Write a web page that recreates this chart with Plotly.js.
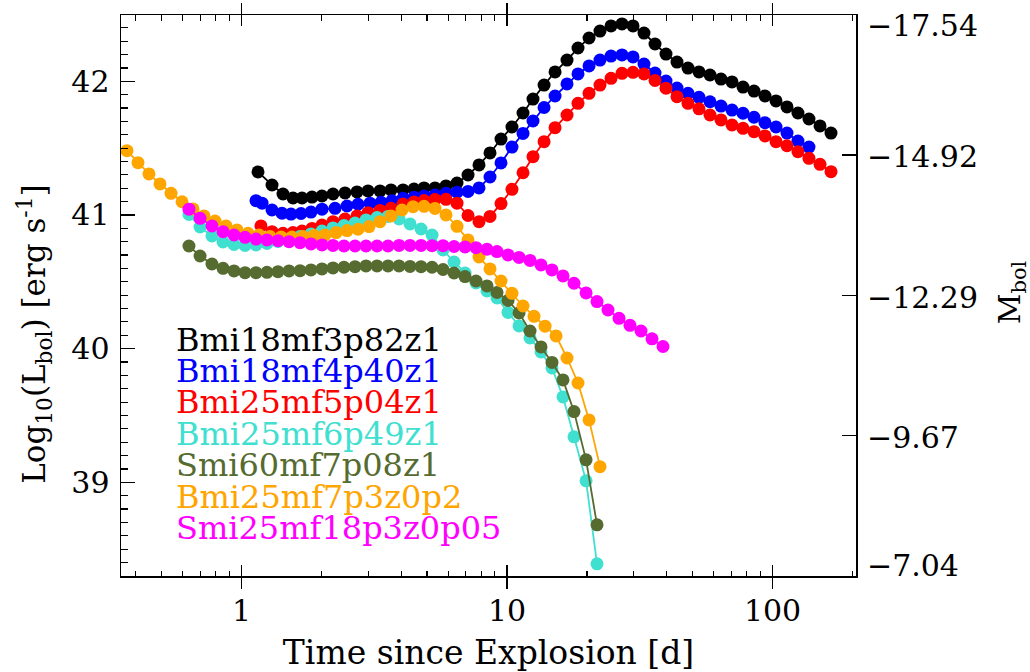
<!DOCTYPE html>
<html>
<head>
<meta charset="utf-8">
<script src="https://cdn.plot.ly/plotly-3.0.1.min.js"></script>
<style>html,body{margin:0;padding:0;background:#fff;}</style>
</head>
<body>
<div id="chart" style="width:1030px;height:672px;"></div>
<script>
// ---- Data ----
const seriesNames = ["Bmi18mf3p82z1","Bmi18mf4p40z1","Bmi25mf5p04z1","Bmi25mf6p49z1","Smi60mf7p08z1","Bmi25mf7p3z0p2","Smi25mf18p3z0p05"];

const t_Bmi18mf3p82z1 = [1.154,1.303,1.433,1.563,1.690,1.843,2.010,2.211,2.454,2.723,2.996,3.324,3.657,4.058,4.464,4.869,5.356,5.891,6.482,7.131,7.845,8.630,9.493,10.44,11.49,12.53,13.79,15.17,16.83,18.51,20.37,22.40,24.65,27.11,29.83,32.81,36.10,39.71,43.68,48.05,52.86,58.15,63.97,70.39,77.43,85.18,93.72,103.1,113.4,124.7,137.2,151.0,166.1];
const L_Bmi18mf3p82z1 = [41.322,41.224,41.157,41.127,41.127,41.134,41.142,41.157,41.165,41.172,41.180,41.180,41.187,41.187,41.194,41.202,41.202,41.217,41.239,41.299,41.374,41.464,41.568,41.658,41.763,41.867,41.972,42.070,42.159,42.249,42.324,42.376,42.414,42.429,42.414,42.361,42.279,42.204,42.144,42.099,42.070,42.047,42.017,41.995,41.957,41.927,41.890,41.853,41.808,41.763,41.718,41.666,41.613];

const t_Bmi18mf4p40z1 = [1.134,1.195,1.303,1.421,1.536,1.675,1.827,2.010,2.250,2.497,2.747,3.048,3.353,3.689,4.058,4.464,4.869,5.356,5.891,6.482,7.131,7.845,8.630,9.493,10.44,11.49,12.53,13.79,15.17,16.83,18.51,20.37,22.40,24.65,27.11,29.83,32.81,36.10,39.71,43.68,48.05,52.86,58.15,63.97,70.39,77.43,85.18,93.72,103.1,113.4,124.7,137.2];
const L_Bmi18mf4p40z1 = [41.107,41.088,41.037,41.013,41.007,41.011,41.022,41.043,41.050,41.067,41.080,41.088,41.095,41.107,41.125,41.132,41.142,41.150,41.162,41.170,41.176,41.202,41.284,41.389,41.508,41.610,41.703,41.804,41.890,41.980,42.055,42.115,42.159,42.189,42.197,42.182,42.129,42.062,42.002,41.950,41.910,41.880,41.847,41.815,41.785,41.761,41.731,41.690,41.658,41.613,41.553,41.508];

const t_Bmi25mf5p04z1 = [1.184,1.303,1.433,1.563,1.690,1.843,2.010,2.211,2.454,2.723,2.996,3.324,3.657,4.058,4.464,4.869,5.356,5.891,6.482,7.131,7.845,8.630,9.493,10.44,11.49,12.53,13.79,15.17,16.83,18.51,20.37,22.40,24.65,27.11,29.83,32.81,36.10,39.71,43.68,48.05,52.86,58.15,63.97,70.39,77.43,85.18,93.72,103.1,113.4,124.7,137.2,151.0,166.1];
const L_Bmi25mf5p04z1 = [40.918,40.875,40.863,40.868,40.880,40.899,40.925,40.950,40.970,40.993,41.017,41.034,41.050,41.082,41.097,41.108,41.116,41.117,41.088,40.996,40.950,40.989,41.085,41.192,41.316,41.436,41.548,41.653,41.748,41.835,41.910,41.972,42.022,42.060,42.067,42.055,42.006,41.948,41.885,41.835,41.794,41.748,41.711,41.673,41.648,41.623,41.591,41.548,41.518,41.473,41.424,41.379,41.324];

const t_Bmi25mf6p49z1 = [0.634,0.698,0.774,0.852,0.937,1.031,1.134,1.247,1.372,1.510,1.661,1.827,2.010,2.211,2.432,2.676,2.944,3.239,3.563,3.920,4.312,4.745,5.220,5.742,6.317,6.949,7.644,8.409,9.170,10.09,11.10,12.21,13.43,14.77,16.25,17.88,19.85,21.83];
const L_Bmi25mf6p49z1 = [41.004,40.910,40.843,40.798,40.779,40.772,40.776,40.787,40.802,40.820,40.839,40.858,40.880,40.903,40.921,40.940,40.963,40.981,40.989,40.970,40.933,40.895,40.850,40.738,40.648,40.566,40.491,40.432,40.379,40.271,40.170,40.080,39.975,39.856,39.639,39.340,39.011,38.390];

const t_Smi60mf7p08z1 = [0.634,0.698,0.774,0.852,0.937,1.031,1.134,1.247,1.372,1.510,1.661,1.827,2.010,2.211,2.432,2.676,2.944,3.239,3.563,3.920,4.312,4.745,5.220,5.742,6.317,6.949,7.644,8.409,9.170,10.09,11.10,12.21,13.43,14.77,16.25,17.88,19.85,21.83];
const L_Smi60mf7p08z1 = [40.768,40.693,40.633,40.601,40.581,40.568,40.568,40.571,40.576,40.581,40.583,40.589,40.596,40.604,40.609,40.613,40.619,40.619,40.619,40.619,40.615,40.613,40.609,40.592,40.566,40.539,40.506,40.469,40.420,40.361,40.267,40.132,40.013,39.897,39.766,39.529,39.168,38.682];

const t_Bmi25mf7p3z0p2 = [0.3704,0.4075,0.4482,0.4932,0.5427,0.5970,0.6567,0.7225,0.7947,0.8742,0.9618,1.058,1.164,1.280,1.409,1.549,1.704,1.876,2.063,2.270,2.497,2.747,3.021,3.324,3.657,4.023,4.426,4.869,5.356,5.891,6.482,7.131,7.845,8.630,9.493,10.44,11.49,12.64,13.91,15.30,16.83,18.51,20.37,22.40];
const L_Bmi25mf7p3z0p2 = [41.481,41.391,41.307,41.232,41.162,41.099,41.045,40.993,40.955,40.918,40.888,40.863,40.850,40.838,40.835,40.835,40.839,40.847,40.850,40.868,40.883,40.893,40.913,40.950,40.993,41.037,41.062,41.065,41.049,41.000,40.915,40.813,40.686,40.596,40.506,40.414,40.319,40.242,40.168,40.095,39.930,39.743,39.467,39.117];

const t_Smi25mf18p3z0p05 = [0.634,0.698,0.774,0.852,0.937,1.031,1.134,1.247,1.372,1.510,1.661,1.827,2.010,2.211,2.432,2.676,2.944,3.239,3.563,3.920,4.312,4.745,5.220,5.742,6.317,6.949,7.644,8.409,9.170,10.09,11.10,12.21,13.43,14.77,16.25,17.88,19.85,21.83,24.01,26.42,29.06,31.97,35.17,38.69];
const L_Smi25mf18p3z0p05 = [41.043,40.975,40.918,40.875,40.850,40.833,40.820,40.813,40.808,40.800,40.793,40.783,40.776,40.772,40.768,40.768,40.768,40.768,40.768,40.772,40.772,40.772,40.770,40.770,40.764,40.761,40.755,40.743,40.726,40.701,40.682,40.660,40.626,40.589,40.544,40.489,40.417,40.352,40.289,40.227,40.174,40.132,40.073,40.016];

// Tick values / labels
const xTickVals = [1, 10, 100];
const xTickText = ["1", "10", "100"];
const xMinorVals = [0.4,0.5,0.6,0.7,0.8,0.9,2,3,4,5,6,7,8,9,20,30,40,50,60,70,80,90,200];
const yTickVals = [39, 40, 41, 42];
const mbolTickVals = [-17.54, -14.92, -12.29, -9.67, -7.04];
const mbolTickText = ["\u221217.54", "\u221214.92", "\u221212.29", "\u22129.67", "\u22127.04"];

// ---- Styles ----
const seriesColors = ["#000000", "#0000ff", "#ff0000", "#40e0d0", "#556b2f", "#ffa500", "#ff00ff"];
const times = [t_Bmi18mf3p82z1, t_Bmi18mf4p40z1, t_Bmi25mf5p04z1, t_Bmi25mf6p49z1, t_Smi60mf7p08z1, t_Bmi25mf7p3z0p2, t_Smi25mf18p3z0p05];
const lums = [L_Bmi18mf3p82z1, L_Bmi18mf4p40z1, L_Bmi25mf5p04z1, L_Bmi25mf6p49z1, L_Smi60mf7p08z1, L_Bmi25mf7p3z0p2, L_Smi25mf18p3z0p05];

const FONT = "DejaVu Serif";
const X_RANGE = [-0.4539, 2.3145];
const traces = seriesNames.map((name, i) => ({
  type: "scatter", mode: "lines+markers", name: name,
  x: times[i], y: lums[i],
  line: {color: seriesColors[i], width: 1.8},
  marker: {color: seriesColors[i], size: 13, line: {width: 0}},
  showlegend: false, hoverinfo: "x+y+name"
}));
// empty traces to anchor the magnitude axis and the minor-tick axis
traces.push({type: "scatter", x: [], y: [], yaxis: "y2", showlegend: false, hoverinfo: "skip"});
traces.push({type: "scatter", x: [], y: [], xaxis: "x2", showlegend: false, hoverinfo: "skip"});

const annotations = [];
seriesNames.forEach((name, i) => {
  annotations.push({
    xref: "paper", yref: "paper", x: 0.0721, y: 0.4215 - i * 0.05597,
    xanchor: "left", yanchor: "middle", showarrow: false,
    text: name, font: {family: FONT, size: 32, color: seriesColors[i]}
  });
});
const nM = mbolTickVals.length;
mbolTickVals.forEach((v, i) => {
  annotations.push({
    xref: "paper", yref: "y2", x: 1, y: v, xshift: 9,
    xanchor: "left", yanchor: i === 0 ? "top" : (i === nM - 1 ? "bottom" : "middle"),
    yshift: i === 0 ? 9 : (i === nM - 1 ? -9 : -2),
    showarrow: false, text: mbolTickText[i], font: {family: FONT, size: 30, color: "#000"}
  });
});
annotations.push({
  xref: "paper", yref: "paper", x: -0.117, y: 0.43, xanchor: "center", yanchor: "middle",
  textangle: -90, showarrow: false,
  text: "Log<sub>10</sub>(L<sub>bol</sub>) [erg s<sup>-1</sup>]",
  font: {family: FONT, size: 31, color: "#000"}
});
annotations.push({
  xref: "paper", yref: "paper", x: 1.211, y: 0.506, xanchor: "center", yanchor: "middle",
  textangle: -90, showarrow: false,
  text: "M<sub>bol</sub>",
  font: {family: FONT, size: 30, color: "#000"}
});

const layout = {
  width: 1030, height: 672,
  margin: {l: 121, r: 174, t: 15, b: 96, pad: 0},
  paper_bgcolor: "#fff", plot_bgcolor: "#fff",
  font: {family: FONT, size: 30, color: "#000"},
  showlegend: false,
  xaxis: {
    type: "log", range: X_RANGE, autorange: false,
    tickmode: "array", tickvals: xTickVals, ticktext: xTickText,
    ticks: "inside", ticklen: 11, tickwidth: 1.5, tickcolor: "#000",
    showline: true, linecolor: "#000", linewidth: 1.5, mirror: "allticks",
    showgrid: false, zeroline: false,
    tickfont: {family: FONT, size: 30, color: "#000"},
    ticklabelstandoff: 7,
    title: {text: "Time since Explosion [d]", font: {family: FONT, size: 33, color: "#000"}, standoff: 15}
  },
  xaxis2: {
    type: "log", range: X_RANGE, autorange: false, overlaying: "x", anchor: "y", side: "bottom",
    tickmode: "array", tickvals: xMinorVals, showticklabels: false,
    ticks: "inside", ticklen: 5.5, tickwidth: 1.2, tickcolor: "#000",
    showline: false, mirror: "allticks", showgrid: false, zeroline: false
  },
  yaxis: {
    range: [38.299, 42.496], autorange: false,
    tickmode: "array", tickvals: yTickVals,
    ticks: "inside", ticklen: 14, tickwidth: 1.5, tickcolor: "#000",
    showline: true, linecolor: "#000", linewidth: 1.5, mirror: true,
    showgrid: false, zeroline: false,
    tickfont: {family: FONT, size: 30, color: "#000"},
    ticklabelstandoff: 4,
    minor: {dtick: 0.1, tick0: 38, ticks: "inside", ticklen: 7, tickwidth: 1.2, tickcolor: "#000", showgrid: false}
  },
  yaxis2: {
    overlaying: "y", side: "right", anchor: "x",
    range: [-7.04, -17.54], autorange: false,
    tickmode: "array", tickvals: mbolTickVals, showticklabels: false,
    ticks: "inside", ticklen: 14, tickwidth: 1.5, tickcolor: "#000",
    showline: true, linecolor: "#000", linewidth: 1.5,
    showgrid: false, zeroline: false
  },
  annotations: annotations
};

Plotly.newPlot("chart", traces, layout, {displayModeBar: false, staticPlot: true});
</script>
</body>
</html>
